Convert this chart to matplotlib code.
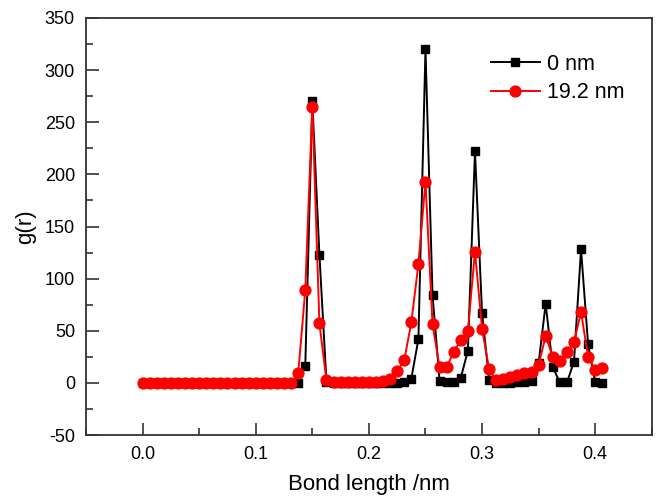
import numpy as np
import matplotlib as mpl
mpl.use('Agg')
import matplotlib.pyplot as plt
from matplotlib.ticker import MultipleLocator

plt.rcParams['font.family'] = ['Liberation Sans', 'DejaVu Sans']
plt.rcParams['axes.unicode_minus'] = False

# bond length grid (nm)
r = [0.0, 0.00625, 0.0125, 0.01875, 0.025, 0.03125, 0.0375, 0.04375, 0.05, 0.05625,
     0.0625, 0.06875, 0.075, 0.08125, 0.0875, 0.09375, 0.1, 0.10625, 0.1125, 0.11875,
     0.125, 0.13125, 0.1375, 0.14375, 0.15, 0.15625, 0.1625, 0.16875, 0.175, 0.18125,
     0.1875, 0.19375, 0.2, 0.20625, 0.2125, 0.21875, 0.225, 0.23125, 0.2375, 0.24375,
     0.25, 0.25625, 0.2625, 0.26875, 0.275, 0.28125, 0.2875, 0.29375, 0.3, 0.30625,
     0.3125, 0.31875, 0.325, 0.33125, 0.3375, 0.34375, 0.35, 0.35625, 0.3625, 0.36875,
     0.375, 0.38125, 0.3875, 0.39375, 0.4, 0.40625]

# g(r), 0 nm
g_0nm = [0, 0, 0, 0, 0, 0, 0, 0, 0, 0,
         0, 0, 0, 0, 0, 0, 0, 0, 0, 0,
         0, 0, 0, 16, 270, 123, 1, 0, 0, 0,
         0, 0, 0, 0, 0, 0, 0, 1, 4, 42,
         320, 84, 2, 1, 1, 5, 31, 222, 67, 3,
         0, 0, 0, 0.5, 1, 2, 19, 76, 15, 0.5,
         0.5, 20, 128, 37, 1, 0]

# g(r), 19.2 nm
g_19nm = [0, 0, 0, 0, 0, 0, 0, 0, 0, 0,
          0, 0, 0, 0, 0, 0, 0, 0, 0, 0,
          0, 0, 9, 89, 265, 57, 2.5, 1, 1, 1,
          1, 1, 1, 1, 1.5, 4, 11, 22, 58, 114,
          193, 56, 15, 15, 30, 41, 50, 126, 52, 13,
          2.5, 4, 6, 8, 9, 10.5, 17.5, 45, 25, 21,
          30, 39, 68, 25, 12.5, 14]

fig = plt.figure(figsize=(6.57, 5), dpi=100)
ax = fig.add_axes([0.131, 0.13, 0.861, 0.834])

ax.plot(r, g_0nm, 'k-', marker='s', markersize=6.3, linewidth=1.4, label='0 nm')
ax.plot(r, g_19nm, '-', color='#ff0000', marker='o', markersize=7.8, linewidth=1.4, label='19.2 nm')

ax.set_xlim(-0.05, 0.45)
ax.set_ylim(-50, 350)
ax.xaxis.set_minor_locator(MultipleLocator(0.05))
ax.yaxis.set_major_locator(MultipleLocator(50))
ax.yaxis.set_minor_locator(MultipleLocator(25))
ax.set_xticks([0.0, 0.1, 0.2, 0.3, 0.4])
ax.set_xticklabels(['0.0', '0.1', '0.2', '0.3', '0.4'])

ax.tick_params(which='both', direction='in', top=False, right=False, labelsize=13, width=1.2, color='#333333')
ax.tick_params(which='major', length=9, pad=8)
ax.tick_params(which='minor', length=5)
for s in ax.spines.values():
    s.set_linewidth(1.3)
    s.set_color('#333333')

ax.set_xlabel('Bond length /nm', fontsize=16, labelpad=8)
ax.set_ylabel('g(r)', fontsize=16, labelpad=6)

ax.legend(loc='upper left', bbox_to_anchor=(0.681, 0.961), frameon=False, fontsize=15.5,
          handlelength=2.3, handletextpad=0.3, labelspacing=0.35)

plt.savefig('out.png', dpi=100)
